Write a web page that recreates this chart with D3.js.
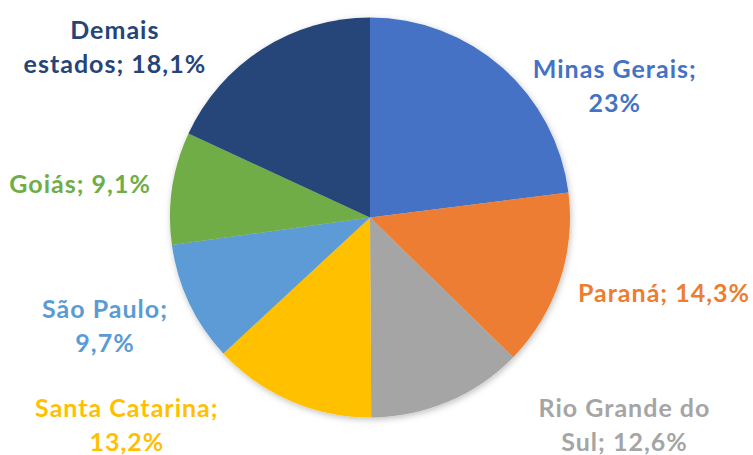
<!DOCTYPE html>
<html>
<head>
<meta charset="utf-8">
<script src="https://cdn.jsdelivr.net/npm/d3@7"></script>
<style>
  body { margin: 0; background: #fff; }
  text { font-family: Lato, "Open Sans", sans-serif; font-weight: bold; letter-spacing: 1px; }
</style>
</head>
<body>
<div id="chart"></div>
<script>
// Share by state (percent), clockwise from 12 o'clock
var states = ['Minas Gerais', 'Paraná', 'Rio Grande do Sul', 'Santa Catarina', 'São Paulo', 'Goiás', 'Demais estados'];
var shares = [23, 14.3, 12.6, 13.2, 9.7, 9.1, 18.1];
var shareLabels = ['23%', '14,3%', '12,6%', '13,2%', '9,7%', '9,1%', '18,1%'];
var colors = ['#4472C4', '#ED7D31', '#A5A5A5', '#FFC000', '#5B9BD5', '#70AD47', '#264478'];

// how each label wraps (Excel style)
var labelLines = [
    ['Minas Gerais;', '23%'],
    ['Paraná; 14,3%'],
    ['Rio Grande do', 'Sul; 12,6%'],
    ['Santa Catarina;', '13,2%'],
    ['São Paulo;', '9,7%'],
    ['Goiás; 9,1%'],
    ['Demais', 'estados; 18,1%']
];
// small nudges from the outer label ring
var labelNudge = [[53, 87], [19, -16], [141, -59], [-128, -58], [-3, -15], [-3, 10], [-99, 74]];

var width = 753;
var height = 455;
var radius = 200;
var cx = 370, cy = 217.5;

var data = states.map(function(s, i) {
    return { category: s, value: shares[i], lines: labelLines[i], nudge: labelNudge[i], color: colors[i] };
});

var svg = d3.select("#chart")
    .append("svg")
    .attr("width", width)
    .attr("height", height);

var defs = svg.append("defs");
var filter = defs.append("filter").attr("id", "shadow")
    .attr("x", "-10%").attr("y", "-10%").attr("width", "120%").attr("height", "120%");
filter.append("feDropShadow")
    .attr("dx", 1).attr("dy", 2).attr("stdDeviation", 3)
    .attr("flood-color", "#000").attr("flood-opacity", 0.25);

var g = svg.append("g")
    .attr("transform", "translate(" + cx + "," + cy + ")");

var pie = d3.pie()
    .sort(null)
    .value(function(d) { return d.value; });

var arc = d3.arc()
    .outerRadius(radius)
    .innerRadius(0);

var labelArc = d3.arc()
    .outerRadius(290)
    .innerRadius(290);

var arcs = pie(data);

g.append("g")
    .attr("filter", "url(#shadow)")
    .selectAll("path")
    .data(arcs)
    .enter().append("path")
    .attr("d", arc)
    .style("fill", function(d) { return d.data.color; });

var lineH = 34;
var labels = g.selectAll(".label")
    .data(arcs)
    .enter().append("text")
    .attr("class", "label")
    .attr("text-anchor", "middle")
    .style("font-size", "25px")
    .style("fill", function(d) { return d.data.color; })
    .attr("transform", function(d) {
        var c = labelArc.centroid(d);
        return "translate(" + (c[0] + d.data.nudge[0]) + "," + (c[1] + d.data.nudge[1]) + ")";
    });

labels.each(function(d) {
    var t = d3.select(this);
    var n = d.data.lines.length;
    var first = n === 1 ? 8.5 : -8.5;
    d.data.lines.forEach(function(line, i) {
        t.append("tspan")
            .attr("x", 0)
            .attr("y", first + i * lineH)
            .text(line);
    });
});
</script>
</body>
</html>
